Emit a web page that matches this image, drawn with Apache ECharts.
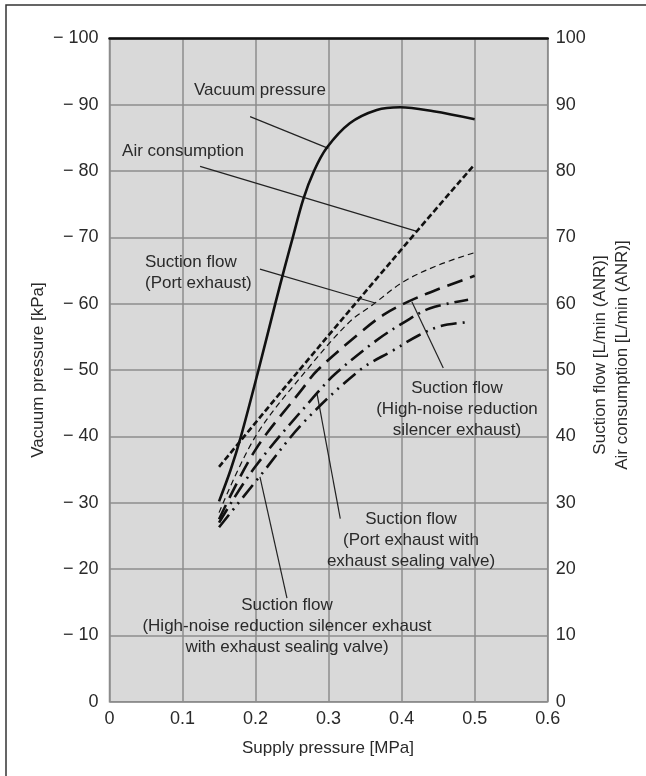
<!DOCTYPE html>
<html>
<head>
<meta charset="utf-8">
<script src="https://cdn.jsdelivr.net/npm/echarts@6/dist/echarts.min.js"></script>
<style>
  html, body { margin: 0; background: #fff; }
  #chart { width: 646px; height: 776px; }
</style>
</head>
<body>
<div id="chart"></div>
<script>
// supply pressure [MPa] vs vacuum pressure [kPa] (left axis)
var vacuumPressure = [
  [0.15, -30.2], [0.166, -35], [0.18, -40], [0.204, -50], [0.227, -60],
  [0.24, -65.5], [0.251, -70], [0.2655, -75.8], [0.28, -80], [0.2975, -83.5],
  [0.329, -87.2], [0.366, -89.2], [0.398, -89.6], [0.4435, -89], [0.5, -87.8]
]
// flows [L/min (ANR)] (right axis)
var airConsumption = [[0.15, 35.4], [0.26, 50], [0.42, 70.8], [0.5, 81]]
var flowPort = [
  [0.15, 28.5], [0.2, 40], [0.27, 50], [0.329, 57.3], [0.36, 59.8],
  [0.4025, 63.3], [0.45, 65.8], [0.5, 67.7]
]
var flowSilencer = [
  [0.15, 27.5], [0.2, 38], [0.263, 47], [0.285, 50], [0.343, 55.6],
  [0.375, 58.3], [0.409, 60.3], [0.448, 62.1], [0.5, 64.2]
]
var flowPortValve = [
  [0.15, 27], [0.2, 35.5], [0.284, 46.5], [0.31, 49.5], [0.366, 54.5],
  [0.405, 57.3], [0.439, 59.3], [0.491, 60.6]
]
var flowSilencerValve = [
  [0.15, 26.3], [0.206, 34], [0.265, 42], [0.343, 50], [0.389, 53],
  [0.423, 55.2], [0.453, 56.6], [0.489, 57.2]
]
// leader lines for the callouts (data coords, right axis)
var leaders = [
  [[0.1925, 88.2], [0.2997, 83.4]],
  [[0.124, 80.7], [0.421, 70.9]],
  [[0.206, 65.2], [0.364, 60.1]],
  [[0.457, 50.3], [0.414, 60.3]],
  [[0.316, 27.6], [0.284, 46.5]],
  [[0.243, 15.6], [0.206, 33.9]]
]

var FONT = '"Liberation Sans", Arial, sans-serif'
var INK = '#2a2a2a'

function curve(name, data, axis, width, dash) {
  return {
    name: name,
    type: 'line',
    yAxisIndex: axis,
    data: data,
    smooth: 0.35,
    symbol: 'none',
    silent: true,
    lineStyle: { color: '#111', width: width, type: dash || 'solid', cap: 'butt' },
    z: 3
  }
}

var series = [
  curve('Vacuum pressure', vacuumPressure, 0, 2.6),
  curve('Air consumption', airConsumption, 1, 2.6, [6, 3]),
  curve('Suction flow (Port exhaust)', flowPort, 1, 1.2, [6, 4]),
  curve('Suction flow (High-noise reduction silencer exhaust)', flowSilencer, 1, 2.6, [16, 8]),
  curve('Suction flow (Port exhaust with exhaust sealing valve)', flowPortValve, 1, 2.6, [16, 6, 2, 6]),
  curve('Suction flow (High-noise reduction silencer exhaust with exhaust sealing valve)', flowSilencerValve, 1, 2.6, [16, 6, 2, 6, 2, 6])
]
leaders.forEach(function (seg) {
  series.push({
    type: 'line',
    yAxisIndex: 1,
    data: seg,
    symbol: 'none',
    silent: true,
    lineStyle: { color: '#222', width: 1.2 },
    z: 2
  })
})

function label(text, x, y, align) {
  return {
    type: 'text',
    x: x,
    y: y,
    style: {
      text: text,
      font: '17px ' + FONT,
      fill: INK,
      textAlign: align || 'center',
      textVerticalAlign: 'top',
      lineHeight: 21
    },
    z: 10
  }
}

var chart = echarts.init(document.getElementById('chart'))
chart.setOption({
  animation: false,
  backgroundColor: '#fff',
  textStyle: { fontFamily: FONT },
  grid: {
    left: 109.5, right: 98.3, top: 38.3, bottom: 74.3,
    show: true,
    backgroundColor: '#d9d9d9',
    borderColor: '#8c8c8c',
    borderWidth: 1.5
  },
  xAxis: [{
    type: 'value', min: 0, max: 0.6, interval: 0.1, position: 'bottom',
    axisLine: { show: false }, axisTick: { show: false },
    splitLine: { lineStyle: { color: '#8c8c8c', width: 1.5 } },
    axisLabel: {
      fontSize: 18, color: INK, margin: 8, fontFamily: FONT,
      formatter: function (v) { return v === 0 ? '0' : v.toFixed(1) }
    }
  }, {
    type: 'value', min: 0, max: 0.6, position: 'top',
    axisLine: { show: true, onZero: false, lineStyle: { color: '#111', width: 2.5 } },
    axisTick: { show: false }, axisLabel: { show: false }, splitLine: { show: false }
  }],
  yAxis: [{
    type: 'value', min: -100, max: 0, interval: 10, inverse: true, position: 'left',
    axisLine: { show: false }, axisTick: { show: false },
    splitLine: { lineStyle: { color: '#8c8c8c', width: 1.5 } },
    axisLabel: {
      fontSize: 18, color: INK, margin: 11, fontFamily: FONT,
      formatter: function (v) { return v === 0 ? '0' : '\u2212 ' + Math.abs(v) }
    }
  }, {
    type: 'value', min: 0, max: 100, interval: 10, position: 'right',
    axisLine: { show: false }, axisTick: { show: false }, splitLine: { show: false },
    axisLabel: { fontSize: 18, color: INK, margin: 8, fontFamily: FONT }
  }],
  series: series,
  graphic: [
    {
      type: 'rect', x: 6, y: 5, silent: true,
      shape: { x: 0, y: 0, width: 800, height: 900 },
      style: { fill: 'none', stroke: '#333', lineWidth: 1.5 }
    },
    {
      type: 'text', x: 38, y: 370, rotation: Math.PI / 2,
      style: { text: 'Vacuum pressure [kPa]', font: '17px ' + FONT, fill: INK,
        textAlign: 'center', textVerticalAlign: 'middle' }
    },
    {
      type: 'text', x: 611, y: 355, rotation: Math.PI / 2,
      style: { text: 'Suction flow [L/min (ANR)]\nAir consumption [L/min (ANR)]',
        font: '17px ' + FONT, fill: INK, textAlign: 'center', textVerticalAlign: 'middle',
        lineHeight: 22 }
    },
    {
      type: 'text', x: 328, y: 748,
      style: { text: 'Supply pressure [MPa]', font: '17px ' + FONT, fill: INK,
        textAlign: 'center', textVerticalAlign: 'middle' }
    },
    label('Vacuum pressure', 260, 80),
    label('Air consumption', 183, 141),
    label('Suction flow\n(Port exhaust)', 145, 252, 'left'),
    label('Suction flow\n(High-noise reduction\nsilencer exhaust)', 457, 378),
    label('Suction flow\n(Port exhaust with\nexhaust sealing valve)', 411, 509),
    label('Suction flow\n(High-noise reduction silencer exhaust\nwith exhaust sealing valve)', 287, 595)
  ]
})
</script>
</body>
</html>
